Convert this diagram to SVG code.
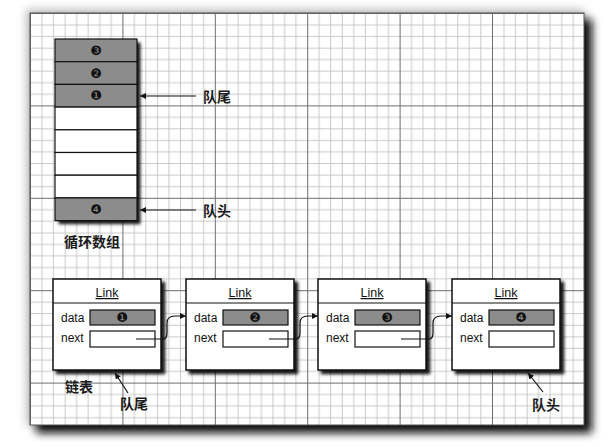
<svg xmlns="http://www.w3.org/2000/svg" width="612" height="447" viewBox="0 0 612 447">
<style>
.lbl{font-family:"Noto Sans CJK SC","Liberation Sans",sans-serif;font-size:14px;font-weight:700;fill:#1a1a1a}
.fld{font-family:"Liberation Sans",Arial,sans-serif;font-size:12px;fill:#111}
.hdr{font-family:"Liberation Sans",Arial,sans-serif;font-size:12.5px;fill:#111;text-decoration:underline}
.num{font-family:"DejaVu Sans",sans-serif;font-size:13px;fill:#111;text-anchor:middle}
.gray{fill:#8c8c8c;stroke:#111;stroke-width:1.2}
.white{fill:#fff;stroke:#111;stroke-width:1.2}
.box{fill:#fff;stroke:#111;stroke-width:1.5}
.con{fill:none;stroke:#111;stroke-width:1.2}
</style>
<defs>
<pattern id="grid" patternUnits="userSpaceOnUse" x="30" y="13" width="92.4" height="92.4">
<g fill="#bdbdbd">
<rect x="11.55" y="0" width="0.8" height="92.4"/><rect x="23.1" y="0" width="0.8" height="92.4"/><rect x="34.65" y="0" width="0.8" height="92.4"/><rect x="46.2" y="0" width="0.8" height="92.4"/><rect x="57.75" y="0" width="0.8" height="92.4"/><rect x="69.3" y="0" width="0.8" height="92.4"/><rect x="80.85" y="0" width="0.8" height="92.4"/>
<rect y="11.55" x="0" height="0.8" width="92.4"/><rect y="23.1" x="0" height="0.8" width="92.4"/><rect y="34.65" x="0" height="0.8" width="92.4"/><rect y="46.2" x="0" height="0.8" width="92.4"/><rect y="57.75" x="0" height="0.8" width="92.4"/><rect y="69.3" x="0" height="0.8" width="92.4"/><rect y="80.85" x="0" height="0.8" width="92.4"/>
</g>
<g fill="#6e6e6e"><rect x="0" y="0" width="1" height="92.4"/><rect x="0" y="0" width="92.4" height="1"/></g>
</pattern>
<filter id="psh" x="-10%" y="-10%" width="120%" height="120%"><feGaussianBlur stdDeviation="4"/></filter>
<filter id="sh" x="-20%" y="-20%" width="140%" height="140%"><feDropShadow dx="3.5" dy="3.5" stdDeviation="1.8" flood-color="#000" flood-opacity="0.9"/></filter>
<marker id="ah" viewBox="0 0 10 10" refX="10" refY="5" markerWidth="6" markerHeight="6" orient="auto-start-reverse" markerUnits="userSpaceOnUse"><path d="M0,0 L10,5 L0,10 z" fill="#111"/></marker>
</defs>
<rect width="612" height="447" fill="#fff"/>
<g id="panel">
<rect x="26" y="9" width="558" height="416" fill="#999" filter="url(#psh)" opacity="0.6"/>
<rect x="36" y="19" width="556" height="414" fill="#111" filter="url(#psh)"/>
<rect x="30" y="13" width="554" height="412" fill="#fff"/>
<rect x="30" y="13" width="554" height="412" fill="url(#grid)"/>
<rect x="30" y="13" width="554" height="412" fill="none" stroke="#555" stroke-width="1"/>
</g>
<g id="array">
<g filter="url(#sh)">
<rect x="55" y="39" width="82" height="181.6" fill="#fff"/>
</g>
<rect class="gray" x="55" y="39" width="82" height="22.7"/>
<rect class="gray" x="55" y="61.7" width="82" height="22.7"/>
<rect class="gray" x="55" y="84.4" width="82" height="22.7"/>
<rect class="white" x="55" y="107.1" width="82" height="22.7"/>
<rect class="white" x="55" y="129.8" width="82" height="22.7"/>
<rect class="white" x="55" y="152.5" width="82" height="22.7"/>
<rect class="white" x="55" y="175.2" width="82" height="22.7"/>
<rect class="gray" x="55" y="197.9" width="82" height="22.7"/>
<text class="num" x="96" y="55">❸</text>
<text class="num" x="96" y="77.7">❷</text>
<text class="num" x="96" y="100.4">❶</text>
<text class="num" x="96" y="213.6">❹</text>
<text class="lbl" x="64" y="247" font-size="15">循环数组</text>
</g>
<g id="link1">
<rect class="box" x="53" y="279" width="108" height="91" filter="url(#sh)"/>
<line x1="53" y1="303" x2="161" y2="303" stroke="#111" stroke-width="1.2"/>
<text class="hdr" x="107" y="297" text-anchor="middle">Link</text>
<text class="fld" x="61" y="322">data</text>
<text class="fld" x="61" y="342">next</text>
<rect class="gray" x="90" y="310" width="65" height="15"/>
<rect class="white" x="90" y="331" width="65" height="16"/>
<text class="num" x="122" y="322">❶</text>
<text class="lbl" x="65" y="392">链表</text>
</g>
<g id="link2">
<rect class="box" x="186" y="279" width="108" height="91" filter="url(#sh)"/>
<line x1="186" y1="303" x2="294" y2="303" stroke="#111" stroke-width="1.2"/>
<text class="hdr" x="240" y="297" text-anchor="middle">Link</text>
<text class="fld" x="194" y="322">data</text>
<text class="fld" x="194" y="342">next</text>
<rect class="gray" x="223" y="310" width="65" height="15"/>
<rect class="white" x="223" y="331" width="65" height="16"/>
<text class="num" x="255" y="322">❷</text>
</g>
<g id="link3">
<rect class="box" x="318" y="279" width="108" height="91" filter="url(#sh)"/>
<line x1="318" y1="303" x2="426" y2="303" stroke="#111" stroke-width="1.2"/>
<text class="hdr" x="372" y="297" text-anchor="middle">Link</text>
<text class="fld" x="326" y="322">data</text>
<text class="fld" x="326" y="342">next</text>
<rect class="gray" x="355" y="310" width="65" height="15"/>
<rect class="white" x="355" y="331" width="65" height="16"/>
<text class="num" x="387" y="322">❸</text>
</g>
<g id="link4">
<rect class="box" x="452" y="279" width="108" height="91" filter="url(#sh)"/>
<line x1="452" y1="303" x2="560" y2="303" stroke="#111" stroke-width="1.2"/>
<text class="hdr" x="506" y="297" text-anchor="middle">Link</text>
<text class="fld" x="460" y="322">data</text>
<text class="fld" x="460" y="342">next</text>
<rect class="gray" x="489" y="310" width="65" height="15"/>
<rect class="white" x="489" y="331" width="65" height="16"/>
<text class="num" x="521" y="322">❹</text>
</g>
<g id="labels">
<text class="lbl" x="203" y="102">队尾</text>
<text class="lbl" x="203" y="216">队头</text>
<text class="lbl" x="120" y="409">队尾</text>
<text class="lbl" x="532" y="410">队头</text>
</g>
<g id="connectors">
<line class="con" x1="196" y1="96" x2="140" y2="96" marker-end="url(#ah)"/>
<line class="con" x1="196" y1="210" x2="140" y2="210" marker-end="url(#ah)"/>
<line class="con" x1="128" y1="393" x2="115" y2="373" marker-end="url(#ah)"/>
<line class="con" x1="543" y1="392" x2="528" y2="373" marker-end="url(#ah)"/>
<path class="con" d="M136,339 H163 Q167,339 167,333 L167,323 Q167,316 175,316 L186,316" marker-end="url(#ah)"/>
<path class="con" d="M269,339 H296 Q300,339 300,333 L300,323 Q300,316 308,316 L318,316" marker-end="url(#ah)"/>
<path class="con" d="M401,339 H429 Q433,339 433,333 L433,323 Q433,316 441,316 L452,316" marker-end="url(#ah)"/>
</g>
</svg>
